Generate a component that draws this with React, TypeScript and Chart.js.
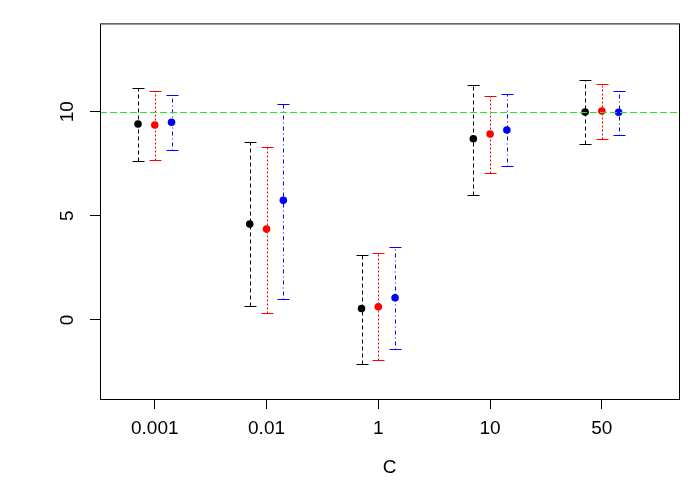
import { useEffect, useRef } from "react";
import { Chart, registerables, Plugin } from "chart.js";

Chart.register(...registerables);

// categories of C on the x axis
const categories = ["0.001", "0.01", "1", "10", "50"];
const xTicks = [1, 2, 3, 4, 5];
const yTicks = [0, 5, 10];
const refLine = 10;

// means and error bar limits per series
const blackMean = [9.41, 4.6, 0.55, 8.7, 9.98];
const blackLo = [7.62, 0.67, -2.13, 6.0, 8.43];
const blackHi = [11.14, 8.52, 3.14, 11.29, 11.52];

const redMean = [9.36, 4.36, 0.63, 8.93, 10.03];
const redLo = [7.67, 0.33, -1.95, 7.05, 8.67];
const redHi = [11.0, 8.29, 3.22, 10.76, 11.33];

const blueMean = [9.49, 5.74, 1.06, 9.12, 9.97];
const blueLo = [8.14, 1.0, -1.38, 7.38, 8.9];
const blueHi = [10.81, 10.38, 3.48, 10.86, 11.0];

const FONT = "'Liberation Sans', Arial, sans-serif";

const series = [
  { color: "#000000", offset: -0.15, mean: blackMean, lo: blackLo, hi: blackHi, dash: [4, 3] },
  { color: "#ff0000", offset: 0, mean: redMean, lo: redLo, hi: redHi, dash: [2, 2] },
  { color: "#0000ff", offset: 0.15, mean: blueMean, lo: blueLo, hi: blueHi, dash: [1, 3, 4, 3] },
];

const errorBars: Plugin<"scatter"> = {
  id: "errorBars",
  beforeDatasetsDraw(chart) {
    const { ctx, scales } = chart;
    const xs = scales.x;
    const ys = scales.y;
    ctx.save();
    ctx.lineWidth = 1;
    series.forEach((s) => {
      ctx.strokeStyle = s.color;
      s.mean.forEach((_, i) => {
        const px = Math.round(xs.getPixelForValue(xTicks[i] + s.offset)) + 0.5;
        const yLo = Math.round(ys.getPixelForValue(s.lo[i])) + 0.5;
        const yHi = Math.round(ys.getPixelForValue(s.hi[i])) + 0.5;
        ctx.setLineDash(s.dash);
        ctx.beginPath();
        ctx.moveTo(px, yLo);
        ctx.lineTo(px, yHi);
        ctx.stroke();
        ctx.setLineDash([]);
        ctx.beginPath();
        ctx.moveTo(px - 6, yLo);
        ctx.lineTo(px + 6, yLo);
        ctx.moveTo(px - 6, yHi);
        ctx.lineTo(px + 6, yHi);
        ctx.stroke();
      });
    });
    ctx.restore();
  },
  afterDatasetsDraw(chart) {
    const { ctx, chartArea, scales } = chart;
    const y = Math.round(scales.y.getPixelForValue(refLine)) + 0.5;
    ctx.save();
    ctx.strokeStyle = "#2ee02e";
    ctx.lineWidth = 1;
    ctx.setLineDash([7, 3]);
    ctx.beginPath();
    ctx.moveTo(chartArea.left, y);
    ctx.lineTo(chartArea.right, y);
    ctx.stroke();
    ctx.setLineDash([]);
    ctx.strokeStyle = "#000000";
    ctx.strokeRect(
      chartArea.left + 0.5,
      chartArea.top + 0.5,
      chartArea.right - chartArea.left,
      chartArea.bottom - chartArea.top
    );
    ctx.restore();
  },
};

export default function App() {
  const canvasRef = useRef<HTMLCanvasElement>(null);
  const chartRef = useRef<Chart | null>(null);

  useEffect(() => {
    if (!canvasRef.current) return;
    if (chartRef.current) chartRef.current.destroy();

    chartRef.current = new Chart(canvasRef.current, {
      type: "scatter",
      data: {
        datasets: series.map((s) => ({
          data: s.mean.map((m, i) => ({ x: xTicks[i] + s.offset, y: m })),
          pointRadius: 3.8,
          pointBorderWidth: 0,
          pointBackgroundColor: s.color,
          pointBorderColor: s.color,
          showLine: false,
        })),
      },
      options: {
        animation: false,
        responsive: true,
        maintainAspectRatio: false,
        layout: { padding: { top: 20, right: 21, left: 0, bottom: 0 } },
        plugins: {
          legend: { display: false },
          tooltip: { enabled: false },
        },
        scales: {
          x: {
            type: "linear",
            min: 0.51,
            max: 5.69,
            afterBuildTicks: (scale) => {
              scale.ticks = xTicks.map((v) => ({ value: v }));
            },
            afterFit: (scale) => {
              scale.height = 101;
            },
            grid: {
              display: true,
              drawOnChartArea: false,
              drawTicks: true,
              tickLength: 10,
              color: "#000000",
            },
            border: { display: false },
            ticks: {
              color: "#000000",
              padding: 8,
              maxRotation: 0,
              font: { family: FONT, size: 19 },
              callback: (v) => categories[Number(v) - 1] ?? "",
            },
            title: {
              display: true,
              text: "C",
              color: "#000000",
              font: { family: FONT, size: 19 },
              padding: { top: 0, bottom: 21 },
            },
          },
          y: {
            type: "linear",
            min: -3.8,
            max: 14.24,
            afterBuildTicks: (scale) => {
              scale.ticks = yTicks.map((v) => ({ value: v }));
            },
            afterFit: (scale) => {
              scale.width = 100;
            },
            grid: {
              display: true,
              drawOnChartArea: false,
              drawTicks: true,
              tickLength: 10,
              color: "#000000",
            },
            border: { display: false },
            ticks: {
              color: "#000000",
              padding: 12,
              minRotation: 90,
              maxRotation: 90,
              crossAlign: "center",
              font: { family: FONT, size: 19 },
            },
          },
        },
      },
      plugins: [errorBars],
    });

    return () => {
      if (chartRef.current) {
        chartRef.current.destroy();
        chartRef.current = null;
      }
    };
  }, []);

  return (
    <div style={{ position: "absolute", left: 0, top: 0, width: 700, height: 500, background: "#ffffff" }}>
      <canvas ref={canvasRef} />
    </div>
  );
}
